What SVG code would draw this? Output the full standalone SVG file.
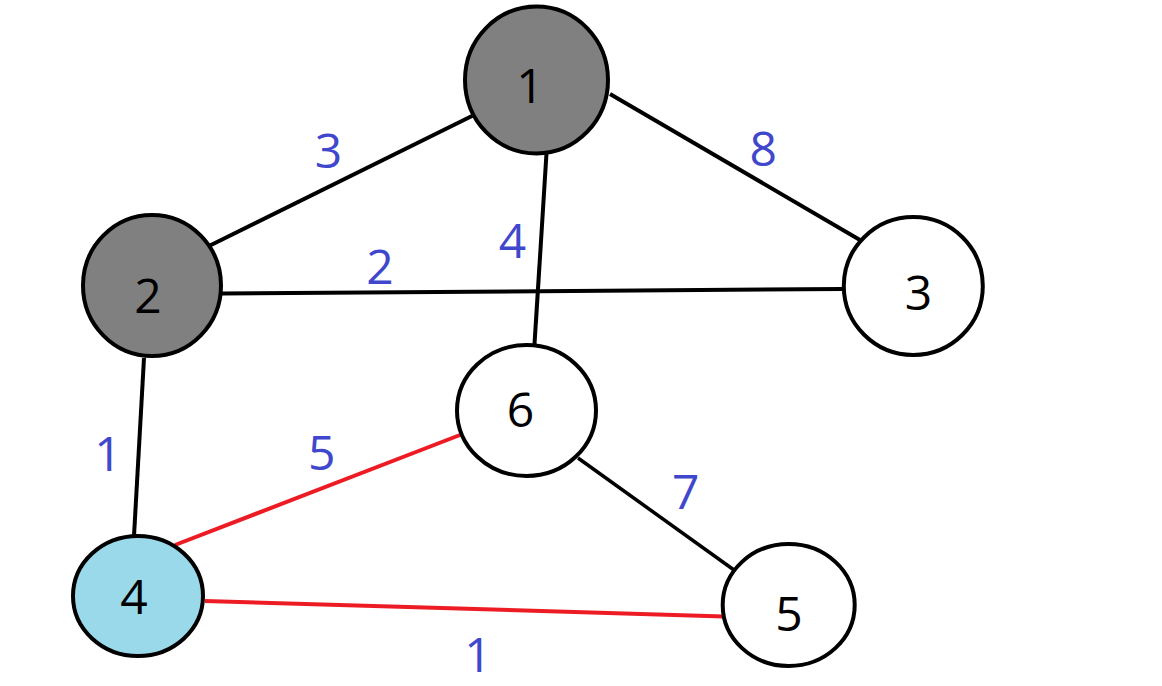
<svg xmlns="http://www.w3.org/2000/svg" width="1162" height="686" viewBox="0 0 1162 686">
<style>
.edge{stroke:#000;stroke-width:4;fill:none;stroke-linecap:butt}
.red{stroke:#ED1C24}
.node{stroke:#000;stroke-width:4}
.nt{font-family:"Open Sans","Noto Sans",sans-serif;font-size:48px;fill:#000;text-anchor:middle}
.lbl{font-family:"Open Sans","Noto Sans",sans-serif;font-size:48px;fill:#3F48CC;text-anchor:middle}
</style>
<rect width="1162" height="686" fill="#fff"/>
<g id="connectors">
<line class="edge" x1="209" y1="246" x2="474" y2="115"/>
<line class="edge" x1="610" y1="94" x2="860" y2="240"/>
<line class="edge" x1="546.5" y1="153" x2="534.4" y2="346"/>
<line class="edge" x1="222" y1="293.5" x2="843" y2="289"/>
<line class="edge" x1="144" y1="358" x2="134" y2="536"/>
<line class="edge" x1="578" y1="458" x2="734" y2="570" style="stroke-width:3.5"/>
<line class="edge red" x1="175" y1="545" x2="460" y2="435"/>
<line class="edge red" x1="205" y1="601" x2="724" y2="616.5"/>
<text class="lbl" x="328.5" y="168">3</text>
<text class="lbl" x="380" y="284">2</text>
<text class="lbl" x="512.5" y="258">4</text>
<text class="lbl" x="763.3" y="166">8</text>
<text class="lbl" x="108" y="471">1</text>
<text class="lbl" x="321.7" y="470">5</text>
<text class="lbl" x="685.8" y="509">7</text>
<text class="lbl" x="478" y="671.7">1</text>
</g>
<g id="node1"><ellipse class="node" cx="536.5" cy="80" rx="71.5" ry="73.5" fill="#808080"/><text class="nt" x="530" y="103">1</text></g>
<g id="node2"><ellipse class="node" cx="152" cy="285.5" rx="69" ry="70.5" fill="#808080"/><text class="nt" x="148" y="313">2</text></g>
<g id="node3"><ellipse class="node" cx="913.3" cy="286" rx="69.5" ry="69" fill="#fff"/><text class="nt" x="918.5" y="310">3</text></g>
<g id="node4"><ellipse class="node" cx="138" cy="596" rx="65" ry="60" fill="#99D9EA"/><text class="nt" x="134" y="614">4</text></g>
<g id="node5"><ellipse class="node" cx="788.7" cy="605" rx="66" ry="61" fill="#fff"/><text class="nt" x="789" y="630.7">5</text></g>
<g id="node6"><ellipse class="node" cx="526.5" cy="410.5" rx="69.5" ry="65.5" fill="#fff"/><text class="nt" x="520.5" y="427">6</text></g>
</svg>
